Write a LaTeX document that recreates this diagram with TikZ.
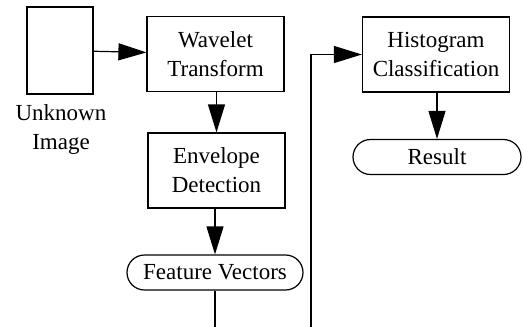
\documentclass[tikz,border=0pt]{standalone}
\usepackage{fontspec}
\setmainfont{Liberation Serif}
\usetikzlibrary{arrows.meta}
\begin{document}
\begin{tikzpicture}[x=1pt,y=-1pt,
  every node/.style={font=\fontsize{23}{29}\selectfont, align=center, inner sep=0pt},
  box/.style={draw, line width=1.2pt, minimum width=137pt, minimum height=75pt},
  term/.style={draw, line width=1.2pt, rounded corners=17.5pt, minimum height=35pt},
  arr/.style={line width=1.2pt, -{Triangle[length=28pt,width=17pt]}},
  ln/.style={line width=1.2pt}]
\useasboundingbox (0,0) rectangle (523,327);
\node[draw, line width=1.2pt, minimum width=66pt, minimum height=87pt] (img) at (60,50.5) {};
\node (lbl) at (61,129) {Unknown\\Image};
\node[box] (wav) at (215.5,54) {Wavelet\\Transform};
\node[box] (env) at (216.5,170.5) {Envelope\\Detection};
\node[term, minimum width=176pt] (fv) at (215,272.5) {Feature Vectors};
\node[box, minimum width=147pt] (hist) at (436,54.5) {Histogram\\Classification};
\node[term, minimum width=168pt] (res) at (437,157) {Result};
\coordinate (fvend) at (215,327.6);
\coordinate (lnend) at (311,327.6);
\draw[arr] (img) -- (wav);
\draw[arr] (wav.south -| env.north) -- (env.north);
\draw[arr] (env.south -| fv.north) -- (fv.north);
\draw[ln] (fv.south) -- (fvend);
\draw[arr] (lnend) |- (hist.west);
\draw[arr] (hist.south -| res.north) -- (res.north);
\end{tikzpicture}
\end{document}
